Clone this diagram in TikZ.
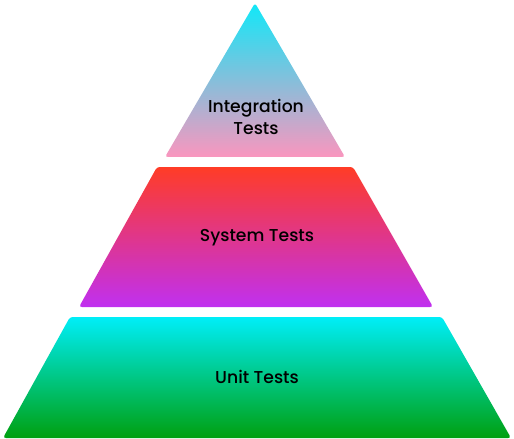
\documentclass[tikz,border=0pt]{standalone}
\usepackage{fontspec}
\setmainfont{Poppins}[UprightFont={* Medium}]
\usetikzlibrary{positioning}

\begin{document}
\begin{tikzpicture}[
    x=0.02cm, y=-0.02cm,
    level/.style={rounded corners=1.6pt},
    label/.style={font=\fontsize{9.8}{13}\selectfont, text=black, align=center, inner sep=0pt}
  ]
    \useasboundingbox (0,0) rectangle (514,439);
    % pyramid levels
    \shade[level, top color={rgb,255:red,16;green,232;blue,248}, bottom color={rgb,255:red,250;green,150;blue,190}]
      (255,3) -- (345,157) -- (165,157) -- cycle;
    \shade[level, top color={rgb,255:red,255;green,60;blue,38}, bottom color={rgb,255:red,192;green,48;blue,240}]
      (157,167) -- (353,167) -- (433,307) -- (79,307) -- cycle;
    \shade[level, top color={rgb,255:red,0;green,238;blue,248}, bottom color={rgb,255:red,0;green,160;blue,16}]
      (70,317) -- (442,317) -- (511,438) -- (3,438) -- cycle;
    \node[label] (integ) at (256,117) {Integration\\Tests};
    \node[label] (system) at (257,238) {System Tests};
    \node[label] (unit) at (257,377) {Unit Tests};
  \end{tikzpicture}
\end{document}
